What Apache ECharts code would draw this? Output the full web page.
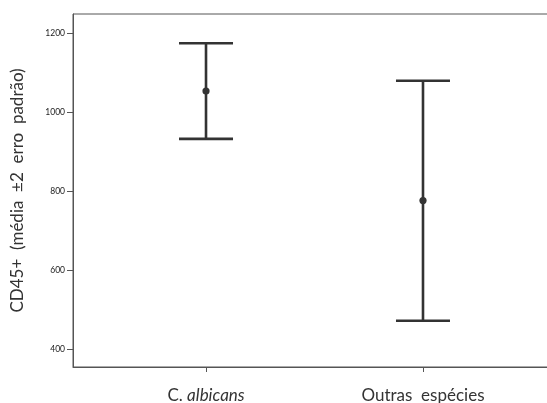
<!DOCTYPE html>
<html>
<head>
<meta charset="utf-8">
<script src="https://cdn.jsdelivr.net/npm/echarts@6/dist/echarts.min.js"></script>
<style>
  html, body { margin: 0; padding: 0; background: #fff; }
  #chart { width: 547px; height: 403px; }
</style>
</head>
<body>
<div id="chart"></div>
<script>
// Groups and their CD45+ summary (mean with ±2 standard error limits)
const categories = ['C. albicans', 'Outras espécies'];
const lowerLimits = [932, 472];
const means = [1053, 776];
const upperLimits = [1174, 1079];
const yTicks = [400, 600, 800, 1000, 1200];

const ink = '#333333';
const font = 'Lato, "Open Sans", sans-serif';

const chart = echarts.init(document.getElementById('chart'), null, { renderer: 'canvas' });

const barData = categories.map((c, i) => [i, lowerLimits[i], means[i], upperLimits[i]]);

function renderErrorBar(params, api) {
  const x = api.value(0);
  const lo = api.coord([x, api.value(1)]);
  const mid = api.coord([x, api.value(2)]);
  const hi = api.coord([x, api.value(3)]);
  const capHalf = 27;
  const lineStyle = { stroke: ink, lineWidth: 2.6 };
  return {
    type: 'group',
    children: [
      { type: 'line', shape: { x1: hi[0], y1: hi[1], x2: lo[0], y2: lo[1] }, style: lineStyle },
      { type: 'line', shape: { x1: hi[0] - capHalf, y1: hi[1], x2: hi[0] + capHalf, y2: hi[1] }, style: lineStyle },
      { type: 'line', shape: { x1: lo[0] - capHalf, y1: lo[1], x2: lo[0] + capHalf, y2: lo[1] }, style: lineStyle },
      { type: 'circle', shape: { cx: mid[0], cy: mid[1], r: 3.6 }, style: { fill: ink } }
    ]
  };
}

chart.setOption({
  animation: false,
  backgroundColor: '#ffffff',
  grid: {
    left: 73,
    top: 14,
    width: 483,
    bottom: 36,
    outerBoundsMode: 'none',
    containLabel: false,
    show: true,
    borderColor: '#555555',
    borderWidth: 1,
    backgroundColor: 'transparent'
  },
  xAxis: {
    type: 'value',
    min: -0.613,
    max: 1.613,
    splitLine: { show: false },
    axisLine: { show: true, onZero: false, lineStyle: { color: '#555555', width: 1 } },
    axisTick: { show: true, customValues: [0, 1], length: 5, inside: false, lineStyle: { color: '#555555' } },
    axisLabel: {
      customValues: [0, 1],
      margin: 20,
      fontSize: 17,
      fontFamily: font,
      color: ink,
      formatter: v => {
        const name = categories[Math.round(v)];
        if (name === 'C. albicans') return '{n|C. }{i|albicans}';
        return '{n|' + name.replace(' ', '  ') + '}';
      },
      rich: {
        n: { fontSize: 17, fontFamily: font, color: ink },
        i: { fontSize: 17, fontFamily: font, color: ink, fontStyle: 'italic' }
      }
    }
  },
  yAxis: {
    type: 'value',
    min: 355,
    max: 1248,
    name: 'CD45+  (média  ±2  erro  padrão)',
    nameLocation: 'middle',
    nameRotate: 90,
    nameGap: 47,
    nameTextStyle: { fontSize: 17, fontFamily: font, color: ink },
    splitLine: { show: false },
    axisLine: { show: true, onZero: false, lineStyle: { color: '#555555', width: 1 } },
    axisTick: { show: true, customValues: yTicks, length: 6, lineStyle: { color: '#555555' } },
    axisLabel: {
      customValues: yTicks,
      margin: 8,
      fontSize: 8.5,
      fontFamily: font,
      color: '#222222',
      formatter: v => String(v)
    }
  },
  series: [{
    type: 'custom',
    renderItem: renderErrorBar,
    encode: { x: 0, y: [1, 2, 3] },
    data: barData,
    clip: false
  }]
});
</script>
</body>
</html>
